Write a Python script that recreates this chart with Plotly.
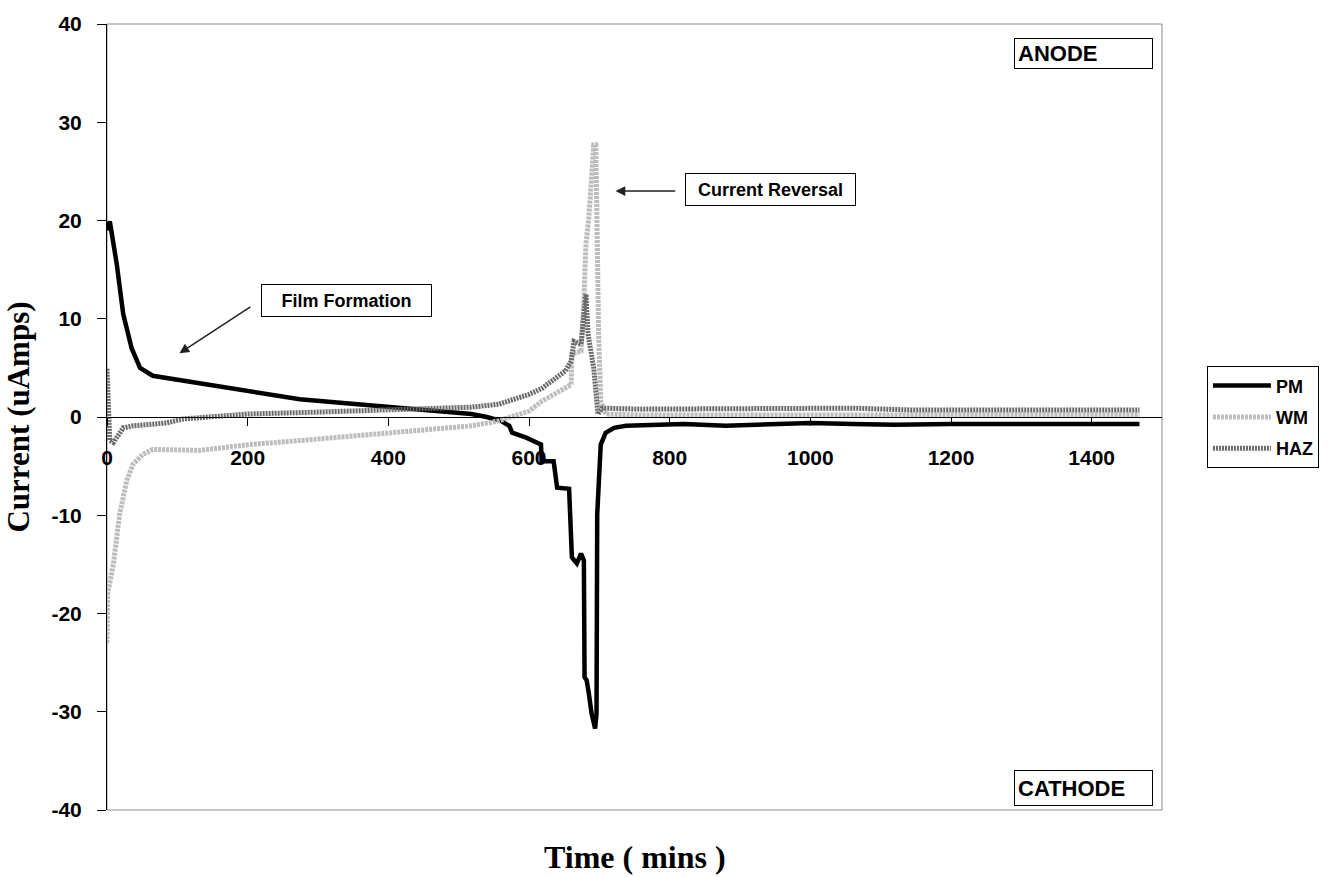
import plotly.graph_objects as go

# ---- data ----
pm_x = [0, 4, 14, 23, 35, 47, 65, 108, 179, 274, 340, 416, 460, 518, 540, 560, 572, 576, 596, 617, 618,
        635, 640, 657, 661, 668, 674, 678, 679, 682, 685, 689, 694, 696, 697, 702, 709, 721, 738,
        780, 820, 880, 950, 1000, 1060, 1120, 1200, 1300, 1400, 1468]
pm_y = [19.0, 19.9, 15.5, 10.5, 7.0, 5.0, 4.2, 3.7, 2.8, 1.8, 1.4, 0.9, 0.6, 0.3, 0.0, -0.4, -0.9, -1.6, -2.1, -2.8, -4.5,
        -4.5, -7.2, -7.3, -14.3, -14.9, -13.9, -14.6, -26.5, -26.8, -28.1, -30.2, -31.7, -30.2, -9.9, -2.8, -1.6, -1.1, -0.9,
        -0.8, -0.7, -0.9, -0.7, -0.6, -0.7, -0.8, -0.7, -0.7, -0.7, -0.7]

wm_x = [0, 1, 9, 18, 28, 37, 51, 65, 132, 203, 274, 416, 518, 557, 600, 618, 643, 660, 661, 674, 678,
        681, 685, 688, 692, 695, 696, 699, 702, 709, 760, 900, 1100, 1300, 1468]
wm_y = [-23.0, -18.0, -15.0, -9.9, -6.5, -4.8, -3.8, -3.3, -3.4, -2.8, -2.4, -1.6, -0.9, -0.4, 0.6, 1.6, 2.6, 3.3, 6.4, 6.7, 11.8,
        17.6, 20.2, 24.0, 27.7, 27.7, 21.9, 8.4, 1.6, 0.3, 0.2, 0.2, 0.2, 0.2, 0.2]

haz_x = [0, 4, 9, 23, 37, 85, 108, 199, 300, 416, 518, 557, 600, 618, 638, 652, 660, 664, 674, 681, 684,
         692, 698, 704, 760, 850, 950, 1060, 1150, 1250, 1350, 1468]
haz_y = [4.9, -2.4, -2.6, -1.1, -0.9, -0.6, -0.2, 0.3, 0.5, 0.8, 1.0, 1.3, 2.3, 2.9, 4.0, 4.7, 5.7, 7.7, 7.4, 12.5, 8.4,
         5.0, 0.3, 0.9, 0.8, 0.8, 0.8, 0.9, 0.7, 0.7, 0.7, 0.7]

x_ticks = [0, 200, 400, 600, 800, 1000, 1200, 1400]
y_ticks = [-40, -30, -20, -10, 0, 10, 20, 30, 40]
y_tick_text = ["-40", "-30", "-20", "-10", "0", "10", "20", "30", "40"]

SANS = "Liberation Sans, Arial, sans-serif"
SERIF = "Liberation Serif, Times New Roman, serif"

fig = go.Figure()
fig.add_trace(go.Scatter(x=pm_x, y=pm_y, name="PM", mode="lines", legendgroup="a",
                         line=dict(color="black", width=4.5)))
fig.add_trace(go.Scatter(x=wm_x, y=wm_y, name="WM", mode="lines", legendgroup="b",
                         line=dict(color="#bdbdbd", width=5, dash="3px,1px")))
fig.add_trace(go.Scatter(x=haz_x, y=haz_y, name="HAZ", mode="lines", legendgroup="c",
                         line=dict(color="#6a6a6a", width=5, dash="2px,1px")))

fig.update_layout(
    width=1331, height=877,
    margin=dict(l=107, r=168, t=22, b=67),
    paper_bgcolor="white", plot_bgcolor="white",
    showlegend=True,
    legend=dict(x=1.0426, y=0.5645, xanchor="left", yanchor="top",
                bordercolor="black", borderwidth=1, bgcolor="white",
                font=dict(family=SANS, size=18, color="black", weight="bold"),
                itemwidth=58, tracegroupgap=5),
    xaxis=dict(range=[0, 1500], tickvals=x_ticks, showgrid=False, zeroline=False,
               anchor="free", position=0.5, showline=True, linecolor="black", linewidth=1,
               ticks="outside", ticklen=8, tickcolor="black", ticklabelstandoff=14,
               tickfont=dict(family=SANS, size=21, color="black", weight="bold")),
    yaxis=dict(range=[-40, 40], tickvals=y_ticks, ticktext=y_tick_text, showgrid=False, zeroline=False,
               showline=True, linecolor="black", linewidth=1,
               ticks="outside", ticklen=9, tickcolor="black", ticklabelstandoff=11,
               tickfont=dict(family=SANS, size=21, color="black", weight="bold"),
               title=dict(text="Current (uAmps)", standoff=12,
                          font=dict(family=SERIF, size=31, color="black", weight="bold"))),
)

# grey frame around plot area
fig.add_shape(type="rect", xref="paper", yref="paper", x0=0, y0=0, x1=1, y1=1,
              line=dict(color="#8c8c8c", width=1), layer="below")

# x title
fig.add_annotation(text="Time ( mins )", xref="paper", yref="paper", x=0.5, y=-0.0596,
                   xanchor="center", yanchor="middle", showarrow=False,
                   font=dict(family=SERIF, size=32, color="black", weight="bold"))

def box(text, x, y, w, h, size, align):
    fig.add_annotation(text=text, x=x, y=y, xref="x", yref="y", showarrow=False,
                       width=w, height=h, align=align,
                       bordercolor="black", borderwidth=1, borderpad=3, bgcolor="white",
                       font=dict(family=SANS, size=size, color="black", weight="bold"))

box("ANODE", 1388, 37.0, 131, 23, 22, "left")
box("CATHODE", 1388, -37.8, 131, 28, 22, "left")
box("Film Formation", 341, 11.9, 163, 25, 18, "center")
box("Current Reversal", 944, 23.2, 163, 25, 18, "center")

# arrows
fig.add_annotation(x=103, y=6.5, ax=206, ay=11.3, xref="x", yref="y", axref="x", ayref="y",
                   text="", showarrow=True, arrowhead=2, arrowsize=1.3, arrowwidth=1.5, arrowcolor="#222")
fig.add_annotation(x=723, y=23.0, ax=810, ay=23.0, xref="x", yref="y", axref="x", ayref="y",
                   text="", showarrow=True, arrowhead=2, arrowsize=1.3, arrowwidth=1.5, arrowcolor="#222")

fig.write_html("out.html")
